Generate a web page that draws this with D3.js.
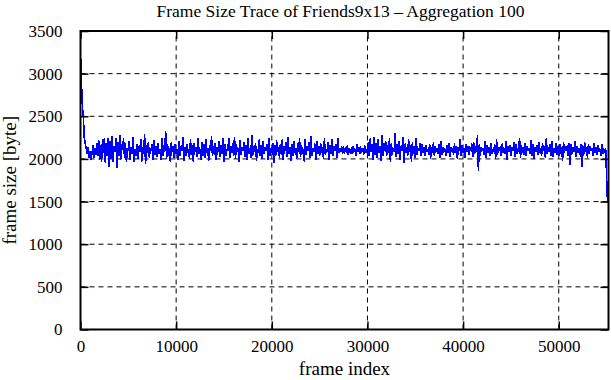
<!DOCTYPE html>
<html><head><meta charset="utf-8">
<script src="https://cdn.jsdelivr.net/npm/d3@7"></script>
<style>body{margin:0;background:#fff}svg{display:block}text{font-family:"Liberation Serif","Times New Roman",serif;fill:#000}</style>
</head><body>
<script>
const title = "Frame Size Trace of Friends9x13 \u2013 Aggregation 100";
const xLabel = "frame index";
const yLabel = "frame size [byte]";
const xTicks = [0,10000,20000,30000,40000,50000];
const yTicks = [0,500,1000,1500,2000,2500,3000,3500];
const xMax = 55200;
const frameStep = 100;
const frameSizes = [
3250,2900,2620,2480,2250,2180,2120,2060,2140,2010,
2090,1990,2060,2160,2010,2130,2050,2190,2030,2220,
1990,2160,1960,2230,2070,2250,1950,2190,2040,2240,
1910,2210,2000,2270,1970,2150,2080,2250,1890,2200,
2040,2280,1990,2170,2100,2240,2010,2190,1960,2130,
2090,2210,1990,2140,2060,2260,1960,2120,2040,2180,
2000,2150,2080,2230,1970,2140,2060,2290,1940,2160,
2070,2200,2010,2130,2090,2170,1990,2220,2050,2150,
2020,2190,2060,2120,1990,2240,2040,2160,2080,2330,
2000,2170,2040,2130,1960,2200,2080,2150,2010,2180,
2060,2120,1990,2210,2040,2150,2090,2260,1980,2140,
2030,2180,2070,2110,2000,2230,2050,2160,1970,2190,
2080,2140,2020,2250,2060,2120,1990,2200,2040,2170,
2010,2230,2070,2130,1980,2160,2090,2270,2030,2150,
2050,2190,1990,2140,2080,2210,2020,2160,2060,2240,
1970,2180,2040,2120,2090,2250,2010,2150,2070,2190,
2030,2260,2000,2170,2080,2130,1960,2220,2050,2140,
2090,2200,2020,2160,1990,2240,2060,2130,2010,2280,
2040,2150,2080,2190,1980,2120,2070,2230,2030,2160,
2000,2210,2060,2140,2090,2170,1990,2250,2040,2130,
2070,2190,1950,2160,2030,2220,2080,2140,2010,2180,
2050,2230,1990,2150,2090,2200,2020,2260,2060,2140,
1980,2170,2040,2210,2070,2130,2000,2190,2080,2240,
2020,2160,2060,2120,1970,2230,2050,2150,2090,2200,
2010,2270,2040,2130,2080,2180,1990,2210,2060,2150,
2030,2190,2070,2140,2000,2240,2050,2120,2080,2200,
1990,2160,2060,2230,2030,2150,2090,2170,2010,2250,
2070,2130,2080,2150,2060,2120,2090,2140,2070,2160,
2050,2130,2080,2110,2060,2150,2090,2120,2040,2170,
2080,2140,2060,2120,2090,2130,2050,2160,2070,2110,
2060,2200,2030,2240,2080,2170,1990,2260,2050,2190,
2010,2230,2070,2150,1980,2280,2040,2180,2090,2210,
2030,2160,2070,2240,1960,2190,2050,2130,2080,2300,
2020,2170,2060,2210,1990,2150,2090,2260,1950,2180,
2070,2140,2030,2230,2080,2160,1970,2200,2060,2150,
2010,2240,2050,2130,2090,2190,2030,2170,2070,2140,
2040,2160,2080,2120,2050,2180,2000,2140,2070,2200,
2030,2150,2080,2130,2060,2170,2010,2210,2050,2140,
2090,2120,2040,2160,2070,2190,2020,2140,2080,2130,
2050,2180,2070,2150,2000,2140,2090,2230,2040,2160,
2070,2130,2010,2170,2080,2150,2050,2120,2090,2180,
2020,2200,2060,2150,2080,2280,1860,2170,2040,2140,
2090,2130,2050,2210,2010,2160,2070,2140,2040,2190,
2060,2120,2080,2170,2000,2230,2050,2140,2090,2150,
2030,2180,2070,2130,2060,2210,1990,2150,2080,2160,
2040,2140,2090,2200,2020,2170,2060,2130,2080,2250,
2010,2160,2070,2140,2050,2190,2030,2150,2090,2130,
2060,2220,2040,2170,2000,2140,2080,2160,2050,2200,
2070,2130,2030,2180,2090,2150,2010,2240,2060,2140,
2080,2170,2040,2210,2020,2130,2070,2190,2050,2150,
2030,2180,2060,2140,1980,2200,2070,2150,2090,2160,
2040,2190,1930,2170,2060,2140,2080,2210,2020,2150,
2070,2130,2050,2180,1910,2160,2040,2200,2080,2140,
2010,2170,2060,2150,2090,2130,2030,2190,2070,2140,
2050,2160,2080,2120,2040,2180,2060,2110,2090,2130,
1790,1480
];

const W = 611, H = 380;
const m = {left: 80.5, right: 2.5, top: 31, bottom: 50.5};
const svg = d3.select("body").append("svg").attr("width", W).attr("height", H);
const x = d3.scaleLinear().domain([0, xMax]).range([m.left, W - m.right]);
const y = d3.scaleLinear().domain([0, 3500]).range([H - m.bottom, m.top]);

// grid
const g = svg.append("g");
g.selectAll(".gx").data(xTicks.slice(1)).enter().append("line")
  .attr("x1", d => x(d)).attr("x2", d => x(d)).attr("y1", y(0)).attr("y2", y(3500))
  .attr("stroke", "#000").attr("stroke-width", 1).attr("stroke-dasharray", "5,4");
g.selectAll(".gy").data(yTicks.slice(1, -1)).enter().append("line")
  .attr("x1", x(0)).attr("x2", x(xMax)).attr("y1", d => y(d)).attr("y2", d => y(d))
  .attr("stroke", "#000").attr("stroke-width", 1).attr("stroke-dasharray", "5,4");

// data line
const line = d3.line().x((d, i) => x(i * frameStep)).y(d => y(d));
svg.append("path").datum(frameSizes).attr("d", line)
  .attr("fill", "none").attr("stroke", "#0000ff").attr("stroke-width", 1.6)
  .attr("stroke-linejoin", "miter").attr("shape-rendering", "crispEdges");

// axes with inward ticks
const tl = 8;
const axB = d3.axisBottom(x).tickValues(xTicks).tickSize(-tl).tickPadding(10).tickFormat(d3.format("d"));
const axT = d3.axisTop(x).tickValues(xTicks).tickSize(-tl).tickFormat("");
const axL = d3.axisLeft(y).tickValues(yTicks).tickSize(-tl).tickPadding(18).tickFormat(d3.format("d"));
const axR = d3.axisRight(y).tickValues(yTicks).tickSize(-tl).tickFormat("");
function style(sel){ sel.select(".domain").remove(); sel.selectAll("line").attr("stroke","#000").attr("stroke-width",1.5); sel.selectAll("text").style("font-size","17px").style("font-family",'"Liberation Serif",serif').attr("fill","#000"); }
svg.append("g").attr("transform", `translate(0,${y(0)})`).call(axB).call(style);
svg.append("g").attr("transform", `translate(0,${y(3500)})`).call(axT).call(style);
svg.append("g").attr("transform", `translate(${x(0)},0)`).call(axL).call(style);
svg.append("g").attr("transform", `translate(${x(xMax)},0)`).call(axR).call(style);

// frame
svg.append("rect").attr("x", x(0)).attr("y", y(3500)).attr("width", x(xMax) - x(0)).attr("height", y(0) - y(3500))
  .attr("fill", "none").attr("stroke", "#000").attr("stroke-width", 2);

svg.append("text").attr("x", (x(0) + x(xMax)) / 2 - 4).attr("y", 17).attr("text-anchor", "middle").style("font-size", "17.5px").text(title);
svg.append("text").attr("x", (x(0) + x(xMax)) / 2).attr("y", 375).attr("text-anchor", "middle").style("font-size", "19px").text(xLabel);
svg.append("text").attr("transform", `translate(16,${(y(0) + y(3500)) / 2}) rotate(-90)`).attr("text-anchor", "middle").style("font-size", "19px").text(yLabel);
</script>
</body></html>
